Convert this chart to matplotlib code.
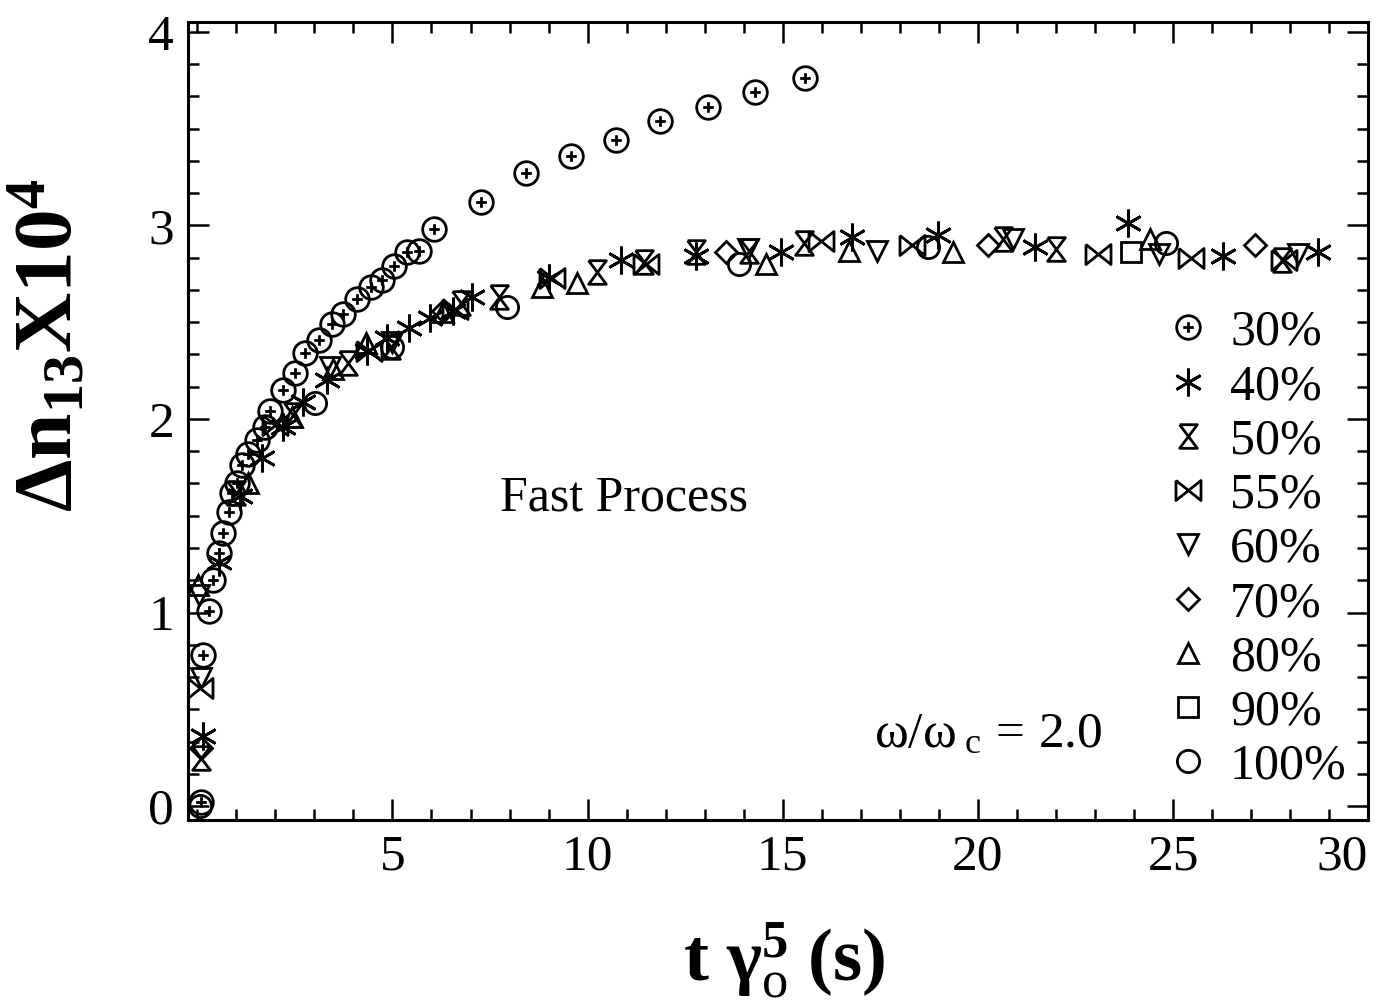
import numpy as np
import matplotlib
matplotlib.use('Agg')
import matplotlib.pyplot as plt
from matplotlib.path import Path
from matplotlib.ticker import MultipleLocator, FixedLocator

plt.rcParams['font.family'] = 'Liberation Serif'
plt.rcParams['mathtext.fontset'] = 'custom'
plt.rcParams['mathtext.rm'] = 'Liberation Serif'
plt.rcParams['mathtext.it'] = 'Liberation Serif:italic'
plt.rcParams['mathtext.bf'] = 'Liberation Serif:bold'

# data (x = t*gamma^5 in s, y = dn13 x 1e4)
x30 = [0.09, 0.14, 0.29, 0.40, 0.55, 0.65, 0.81, 0.88, 1.01, 1.14, 1.29, 1.52, 1.73, 1.85,
       2.19, 2.49, 2.77, 3.11, 3.44, 3.72, 4.08, 4.44, 4.72, 5.05, 5.38, 5.69, 6.07,
       7.28, 8.43, 9.58, 10.73, 11.86, 13.08, 14.29, 15.56]
y30 = [0.02, 0.78, 1.01, 1.17, 1.31, 1.41, 1.52, 1.62, 1.67, 1.76, 1.82, 1.89, 1.96, 2.04,
       2.15, 2.24, 2.34, 2.41, 2.49, 2.54, 2.62, 2.68, 2.72, 2.79, 2.86, 2.87, 2.98,
       3.12, 3.27, 3.36, 3.44, 3.54, 3.61, 3.69, 3.76]

x40 = [0.14, 0.55, 1.10, 1.65, 2.19, 2.70, 3.31, 4.36, 4.87, 5.43, 5.95, 6.54, 7.05,
       9.02, 10.86, 12.77, 14.95, 16.77, 18.99, 21.47, 23.85, 26.28, 28.71]
y40 = [0.36, 1.26, 1.60, 1.80, 1.96, 2.09, 2.20, 2.35, 2.42, 2.47, 2.52, 2.56, 2.63,
       2.73, 2.82, 2.84, 2.86, 2.94, 2.95, 2.89, 3.01, 2.84, 2.86]

x50 = [0.09, 1.00, 2.45, 3.85, 4.97, 6.75, 7.74, 10.25, 11.45, 12.77, 14.13, 15.54,
       20.65, 22.00, 27.80]
y50 = [0.25, 1.62, 2.02, 2.29, 2.37, 2.60, 2.63, 2.76, 2.81, 2.86, 2.87, 2.91,
       2.93, 2.88, 2.82]

x55 = [0.08, 2.00, 4.40, 6.60, 9.10, 11.50, 15.97, 18.30, 23.08, 25.46, 27.85]
y55 = [0.61, 1.97, 2.35, 2.57, 2.73, 2.80, 2.92, 2.90, 2.85, 2.83, 2.82]

x60 = [0.05, 0.10, 3.40, 5.00, 14.10, 17.41, 20.90, 24.64, 28.20]
y60 = [1.09, 0.66, 2.27, 2.40, 2.88, 2.87, 2.93, 2.85, 2.85]

x70 = [0.09, 6.30, 13.54, 20.27, 27.10]
y70 = [0.30, 2.56, 2.86, 2.90, 2.90]

x80 = [0.03, 1.30, 2.42, 3.47, 4.33, 6.30, 8.84, 9.73, 14.57, 16.69, 19.37, 24.41]
y80 = [1.14, 1.67, 2.01, 2.26, 2.39, 2.55, 2.68, 2.70, 2.80, 2.87, 2.86, 2.93]

x90 = [23.93]
y90 = [2.86]

x100 = [0.08, 3.01, 4.98, 7.94, 13.87, 18.73, 24.82]
y100 = [0.00, 2.08, 2.37, 2.58, 2.80, 2.89, 2.91]

labels = ['30%', '40%', '50%', '55%', '60%', '70%', '80%', '90%', '100%']

# custom marker shapes
circ = Path.unit_circle()
plus = Path([(-0.45, 0), (0.45, 0), (0, -0.45), (0, 0.45)],
            [Path.MOVETO, Path.LINETO, Path.MOVETO, Path.LINETO])
circle_plus = Path.make_compound_path(circ, plus)
hourglass = Path([(-0.75, 1), (0.75, 1), (-0.75, -1), (0.75, -1), (-0.75, 1)])
bowtie = Path([(-1, 0.8), (-1, -0.8), (1, 0.8), (1, -0.8), (-1, 0.8)])

series = [
    (x30, y30, circle_plus, 17),
    (x40, y40, (6, 2, 0), 20),
    (x50, y50, hourglass, 17),
    (x55, y55, bowtie, 18),
    (x60, y60, 'v', 15),
    (x70, y70, 'D', 11),
    (x80, y80, '^', 15),
    (x90, y90, 's', 15),
    (x100, y100, 'o', 16),
]

fig = plt.figure(figsize=(13.82, 10.05), dpi=100)
ax = fig.add_axes([0.136, 0.184, 0.854, 0.794])

for (xs, ys, mk, ms), lab in zip(series, labels):
    ax.plot(xs, ys, ls='none', marker=mk, ms=ms, mfc='none', mec='black',
            mew=2.0, label=lab)

ax.set_xlim(-0.24, 30.0)
ax.set_ylim(-0.072, 4.05)
ax.xaxis.set_major_locator(FixedLocator([5, 10, 15, 20, 25, 30]))
ax.xaxis.set_minor_locator(MultipleLocator(1))
ax.yaxis.set_major_locator(MultipleLocator(1))
ax.yaxis.set_minor_locator(MultipleLocator(1 / 6))
ax.tick_params(which='both', direction='in', top=True, right=True, width=1.8,
               labelsize=37, colors='black')
ax.tick_params(which='major', length=15, pad=10)
ax.tick_params(which='minor', length=8)
for s in ax.spines.values():
    s.set_linewidth(2.2)

fig.canvas.draw()
xl = ax.get_xticklabels()
xl[-1].set_horizontalalignment('right')

ax.set_xlabel(r'$\mathbf{t\ \gamma}_{\mathrm{o}}^{\mathbf{5}}\mathbf{\ (s)}$', fontsize=54)
ax.xaxis.set_label_coords(0.505, -0.125)
ax.set_ylabel(r'$\mathbf{\Delta n}_{\mathbf{13}}\mathbf{X10}^{\mathbf{4}}$', fontsize=60)
ax.yaxis.set_label_coords(-0.083, 0.595)

ax.text(10.93, 1.59, 'Fast Process', fontsize=36, ha='center', va='center')
ax.text(20.27, 0.37, r'$\mathrm{\omega/\omega}_{\ \mathrm{c}}\mathrm{\,=\,2.0}$',
        fontsize=37, ha='center', va='center')

ax.legend(loc='upper left', bbox_to_anchor=(0.83, 0.64), frameon=False,
          fontsize=36, handlelength=0.8, handletextpad=0.45, labelspacing=0.155,
          borderaxespad=0, borderpad=0)

fig.savefig('out.png', dpi=100)
